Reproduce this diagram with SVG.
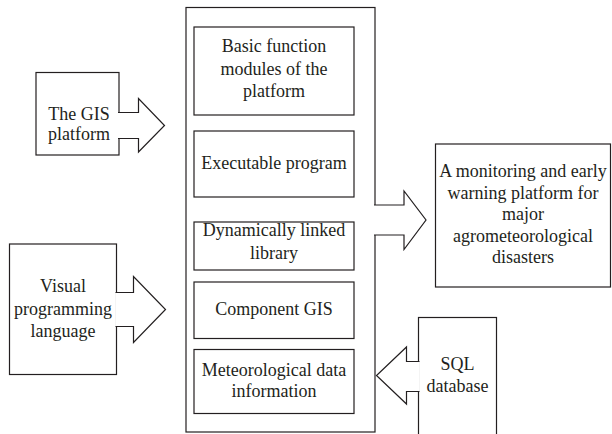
<svg xmlns="http://www.w3.org/2000/svg" width="612" height="434" viewBox="0 0 612 434">
<style>
.b{fill:#fff;stroke:#231f20;stroke-width:1.2}
.a{fill:#fff;stroke:#231f20;stroke-width:1.2;stroke-linejoin:miter}
text{font-family:"Liberation Serif","Times New Roman",serif;font-size:18px;fill:#231f20;text-anchor:middle}
</style>
<rect width="612" height="434" fill="#fff"/>
<g id="gis-platform">
<rect class="b" x="36" y="72.5" width="83" height="82.5"/>
<text x="79" y="120">The GIS</text>
<text x="79" y="140">platform</text>
</g>
<g id="visual-programming">
<rect class="b" x="9.5" y="244" width="107" height="130.5"/>
<text x="63" y="292">Visual</text>
<text x="63" y="315">programming</text>
<text x="63" y="337">language</text>
</g>
<g id="sql-database">
<rect class="b" x="418.5" y="317.5" width="78" height="130"/>
<text x="457.5" y="370">SQL</text>
<text x="457.5" y="392">database</text>
</g>
<g id="platform-container">
<rect class="b" x="186" y="7.5" width="189" height="424.5"/>
</g>
<g id="basic-modules">
<rect class="b" x="194" y="27" width="160" height="88"/>
<text x="274" y="52">Basic function</text>
<text x="274" y="75">modules of the</text>
<text x="274" y="97">platform</text>
</g>
<g id="executable-program">
<rect class="b" x="194" y="131" width="160" height="66"/>
<text x="274" y="169">Executable program</text>
</g>
<g id="dll">
<rect class="b" x="194" y="222" width="160" height="48"/>
<text x="274" y="235.5">Dynamically linked</text>
<text x="274" y="258.5">library</text>
</g>
<g id="component-gis">
<rect class="b" x="194" y="282" width="160" height="56.5"/>
<text x="274" y="315">Component GIS</text>
</g>
<g id="meteorological-data">
<rect class="b" x="194" y="349.5" width="160" height="64"/>
<text x="274" y="375.5">Meteorological data</text>
<text x="274" y="397">information</text>
</g>
<g id="output-platform">
<rect class="b" x="435.5" y="144" width="175" height="143"/>
<text x="523" y="177">A monitoring and early</text>
<text x="523" y="198.5">warning platform for</text>
<text x="523" y="220">major</text>
<text x="523" y="241.5">agrometeorological</text>
<text x="523" y="263">disasters</text>
</g>
<g id="connectors">
<path class="a" d="M118,112.5 H138.5 V98.5 L164.5,125.5 L138.5,152 V138.5 H118"/>
<path class="a" d="M115.5,292.5 H133.5 V276.5 L165.5,309.5 L133.5,342.5 V326.5 H115.5"/>
<path class="a" d="M374,205 H404 V191 L426,220 L404,249.5 V235 H374"/>
<path class="a" d="M419.5,361.5 H406.5 V347 L376.5,375.5 L406.5,404 V391.5 H419.5"/>
</g>
</svg>
